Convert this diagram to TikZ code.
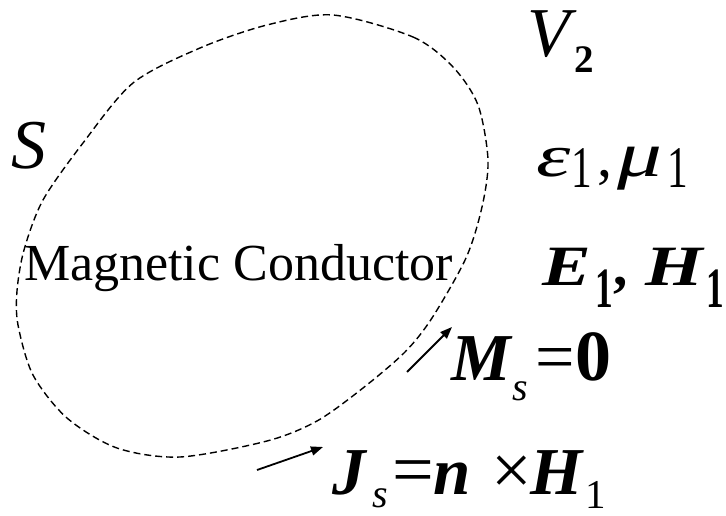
\documentclass[tikz,border=0pt]{standalone}
\usepackage{fontspec}
\usepackage{graphicx}
\setmainfont{Liberation Serif}
\usetikzlibrary{arrows.meta}
\newcommand\fs[1]{\fontsize{#1}{#1}\selectfont}
\newcommand\lsub[3]{\raisebox{-#1pt}{\fs{#2}#3}}
\newcommand\slot[2]{\makebox[#1pt][l]{#2}}
\newcommand\wide[2]{\scalebox{#1}[1]{#2}}
\tikzset{
  lbl/.style={anchor=base west, inner sep=0pt, outer sep=0pt},
  boundary/.style={line width=1.4pt, dash pattern=on 7pt off 4pt},
  pointer/.style={-{Triangle[length=12pt, width=9pt]}, line width=1.8pt},
}
\begin{document}
\begin{tikzpicture}[x=1pt, y=-1pt]
  \useasboundingbox (0,0) rectangle (726,516);

  % ==================================================================
  % Surface S of the magnetic conductor
  % ==================================================================
  \draw[boundary] plot[smooth cycle] coordinates {
    (333,15) (413,37) (453,67) (478,105) (488,160) (482,207) (466,258)
    (432,318) (405,352) (363,388) (317,421) (267,441) (180,457)
    (117,448) (67,418) (33,375) (18,325) (17,291) (24,250) (43,200)
    (83,143) (133,83) (200,48) (267,25)};

  \node[lbl] (surf) at (11,168) {\fs{70}\textit{S}};
  \node[lbl] (cond) at (24,280) {\fs{52}Magnetic Conductor};

  % ==================================================================
  % Region V2 and its fields
  % ==================================================================
  \node[lbl] (region) at (527,57)
    {\fs{70}\textit{V}\kern-2pt\lsub{16}{39}{\textbf{2}}};
  \node[lbl] (media) at (536,177)
    {\fs{60}\slot{35}{\wide{1.45}{\textit{ε}}}\slot{26}{\lsub{10}{59}{\wide{0.7}{1}}}%
     \slot{20}{,}\slot{50}{\wide{1.4}{\fs{64}\textit{μ}}}\lsub{10}{59}{\wide{0.7}{1}}};
  \node[lbl] (fields) at (542,285)
    {\fs{57}\bfseries\slot{53}{\wide{1.28}{\textit{E}}}\slot{18}{\lsub{22}{57}{\wide{0.62}{1}}}%
     \slot{32}{,}\slot{61}{\wide{1.3}{\textit{H}}}\lsub{22}{57}{\wide{0.62}{1}}};

  % ----------------------------------------------------------------
  % Surface currents
  % ----------------------------------------------------------------
  \node[lbl] (magcur) at (451,380)
    {\fs{67}\slot{61}{\textbf{\textit{M}}}\slot{23}{\lsub{20}{40}{\textit{s}}}%
     \slot{40}{\fs{70}=}\fs{72}\textbf{0}};
  \node[lbl] (elcur) at (332,494)
    {\fs{67}\slot{40}{\textbf{\textit{J}}}\slot{20}{\lsub{13}{40}{\textit{s}}}%
     \slot{41}{\fs{74}=}\slot{58}{\textbf{\textit{n}}}\slot{39}{\fs{72}×}%
     \slot{55}{\textbf{\textit{H}}}\lsub{14}{41}{1}};

  \coordinate (mtail) at (407,372);
  \coordinate (mtip) at (452,327);
  \coordinate (jtail) at (257,470);
  \coordinate (jtip) at (323,447);

  \draw[pointer] (mtail) -- (mtip);
  \draw[pointer] (jtail) -- (jtip);

\end{tikzpicture}
\end{document}
